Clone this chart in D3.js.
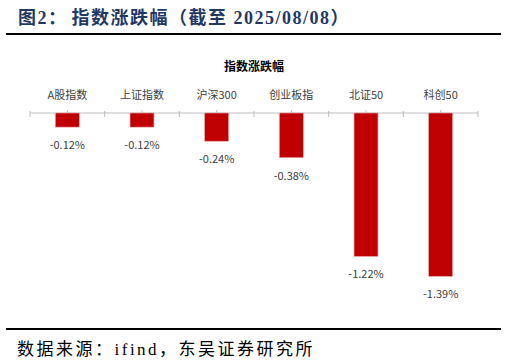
<!DOCTYPE html>
<meta charset="utf-8">
<style>
body { margin: 0; background: #fff; }
svg { display: block; }
.head { font-family: "Liberation Serif", "Noto Sans CJK SC", serif; font-weight: bold; font-size: 18px; letter-spacing: 1.5px; fill: #1f3864; }
.src { font-family: "Liberation Serif", "Noto Sans CJK SC", serif; font-size: 17px; letter-spacing: 2.5px; fill: #000; }
.ctitle { font-family: "Noto Sans CJK SC", sans-serif; font-weight: bold; font-size: 12px; fill: #000; }
.cat { font-family: "Noto Sans CJK SC", sans-serif; font-size: 11px; fill: #404040; }
.val { font-family: "Noto Sans CJK SC", sans-serif; font-size: 11px; fill: #404040; }
</style>
<body>
<script src="https://cdn.jsdelivr.net/npm/d3@7"></script>
<script>

var categories = ["A股指数", "上证指数", "沪深300", "创业板指", "北证50", "科创50"];
var changes = [-0.12, -0.12, -0.24, -0.38, -1.22, -1.39];

var W = 507, H = 362;

var svg = d3.select("body").append("svg")
    .attr("width", W)
    .attr("height", H);

// header
var head = svg.append("text")
    .attr("class", "head")
    .attr("x", 18)
    .attr("y", 24);
head.append("tspan").text("图2：");
head.append("tspan").attr("dx", 4).text("指数涨跌幅（截至 2025/08/08）");

svg.append("line")
    .attr("x1", 6).attr("x2", 501)
    .attr("y1", 34).attr("y2", 34)
    .attr("stroke", "#000")
    .attr("stroke-width", 2);

// chart
var x = d3.scaleBand()
    .domain(categories)
    .range([30, 478])
    .paddingInner(0.68)
    .paddingOuter(0.34);

var y = d3.scaleLinear()
    .domain([-1.6, 0])
    .range([301, 113]);

svg.append("text")
    .attr("class", "ctitle")
    .attr("x", 254)
    .attr("y", 71)
    .attr("text-anchor", "middle")
    .text("指数涨跌幅");

svg.selectAll(".cat")
    .data(categories)
  .enter().append("text")
    .attr("class", "cat")
    .attr("x", function(d) { return x(d) + x.bandwidth() / 2; })
    .attr("y", 99)
    .attr("text-anchor", "middle")
    .text(function(d) { return d; });

// axis line and ticks
var axis = svg.append("g");
axis.append("line")
    .attr("x1", 30).attr("x2", 478)
    .attr("y1", y(0)).attr("y2", y(0))
    .attr("stroke", "#bfbfbf");

var bounds = d3.range(categories.length + 1).map(function(i) { return 30 + i * x.step(); });
axis.selectAll(".tb")
    .data(bounds)
  .enter().append("line")
    .attr("x1", function(d) { return d; })
    .attr("x2", function(d) { return d; })
    .attr("y1", y(0) - 2)
    .attr("y2", y(0) + 4)
    .attr("stroke", "#bfbfbf");

axis.selectAll(".tc")
    .data(categories)
  .enter().append("line")
    .attr("x1", function(d) { return x(d) + x.bandwidth() / 2; })
    .attr("x2", function(d) { return x(d) + x.bandwidth() / 2; })
    .attr("y1", y(0) - 3)
    .attr("y2", y(0))
    .attr("stroke", "#bfbfbf");

var data = categories.map(function(c, i) { return {cat: c, v: changes[i]}; });

svg.selectAll(".bar")
    .data(data)
  .enter().append("rect")
    .attr("class", "bar")
    .attr("x", function(d) { return x(d.cat); })
    .attr("width", x.bandwidth())
    .attr("y", y(0))
    .attr("height", function(d) { return y(d.v) - y(0); })
    .attr("fill", "#c00000")
    .attr("stroke", "#e8a0a0")
    .attr("stroke-width", 0.6);

svg.selectAll(".val")
    .data(data)
  .enter().append("text")
    .attr("class", "val")
    .attr("x", function(d) { return x(d.cat) + x.bandwidth() / 2; })
    .attr("y", function(d) { return y(d.v) + 22; })
    .attr("text-anchor", "middle")
    .text(function(d) { return d.v.toFixed(2) + "%"; });

// footer
svg.append("line")
    .attr("x1", 6).attr("x2", 501)
    .attr("y1", 329).attr("y2", 329)
    .attr("stroke", "#000")
    .attr("stroke-width", 2);

svg.append("text")
    .attr("class", "src")
    .attr("x", 17)
    .attr("y", 355)
    .text("数据来源：ifind，东吴证券研究所");

</script>
